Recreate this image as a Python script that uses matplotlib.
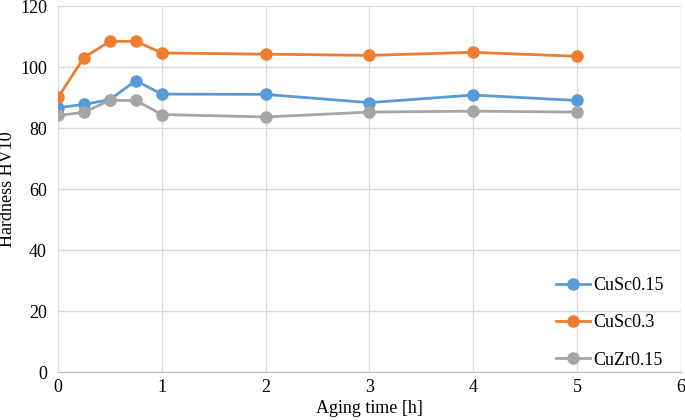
import matplotlib.pyplot as plt

plt.rcParams['font.family'] = ['Liberation Serif', 'DejaVu Serif']

tiempo = [0, 0.25, 0.5, 0.75, 1, 2, 3, 4, 5]
cusc015 = [86.8, 87.8, 89.4, 95.6, 91.2, 91.1, 88.4, 90.9, 89.1]
cusc03 = [90.1, 103.2, 108.5, 108.5, 104.7, 104.3, 103.9, 104.9, 103.6]
cuzr015 = [84.2, 85.2, 89.2, 89.1, 84.5, 83.7, 85.3, 85.6, 85.3]

fig = plt.figure(figsize=(6.85, 4.2), dpi=100)
ax = fig.add_axes([0.0847, 0.114, 0.909, 0.871])

ax.plot(tiempo, cusc015, color='#5b9bd5', marker='o', markersize=8, linewidth=2, label='CuSc0.15')
ax.plot(tiempo, cusc03, color='#ed7d31', marker='o', markersize=8, linewidth=2, label='CuSc0.3')
ax.plot(tiempo, cuzr015, color='#a5a5a5', marker='o', markersize=8, linewidth=2, label='CuZr0.15')

ax.set_xlim(0, 6)
ax.set_ylim(0, 120)
ax.set_xticks(range(0, 7))
ax.set_yticks(range(0, 121, 20))
ax.grid(True, color='#d9d9d9', linewidth=1)
ax.set_axisbelow(True)
for s in ['top', 'right', 'left']:
    ax.spines[s].set_visible(False)
ax.spines['bottom'].set_color('#bfbfbf')
ax.tick_params(axis='y', length=0, labelsize=13, pad=8)
ax.tick_params(axis='x', length=0, labelsize=13, pad=5)

ax.set_xlabel('Aging time [h]', fontsize=13, labelpad=3)
ax.set_ylabel('Hardness HV10', fontsize=13, labelpad=3)

ax.legend(loc='lower right', bbox_to_anchor=(0.99, -0.02), frameon=False, fontsize=13,
          labelspacing=1.12, handlelength=1.9, handletextpad=0.15, borderaxespad=0.2)

fig.savefig('out.png', dpi=100)
